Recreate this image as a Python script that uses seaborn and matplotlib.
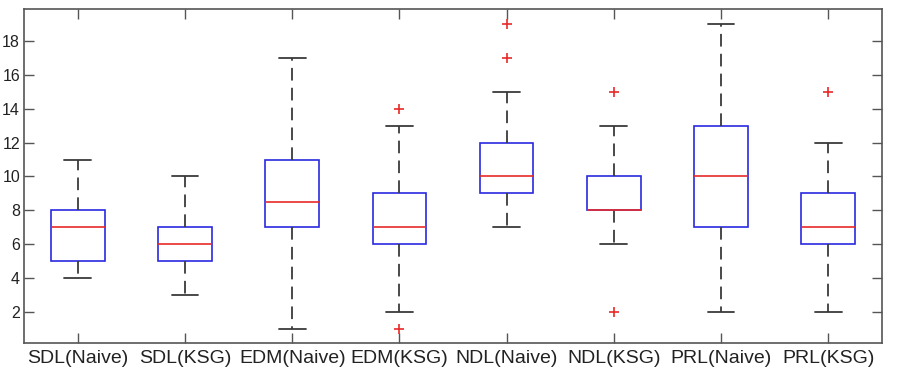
import pandas as pd
import numpy as np
import matplotlib.pyplot as plt
import seaborn as sns

# 各组箱线图的统计值
groups = ["SDL(Naive)", "SDL(KSG)", "EDM(Naive)", "EDM(KSG)",
          "NDL(Naive)", "NDL(KSG)", "PRL(Naive)", "PRL(KSG)"]
whis_lo = [4, 3, 1, 2, 7, 6, 2, 2]
q1 = [5, 5, 7, 6, 9, 8, 7, 6]
median = [7, 6, 8.5, 7, 10, 8, 10, 7]
q3 = [8, 7, 11, 9, 12, 10, 13, 9]
whis_hi = [11, 10, 17, 13, 15, 13, 19, 12]
outliers = [[], [], [], [14, 1], [17, 19], [15, 2], [], [15]]

# 把统计值转成 seaborn 需要的长表（分位数与读数一致）
rows = []
for g, lo, a, m, b, hi, fl in zip(groups, whis_lo, q1, median, q3, whis_hi, outliers):
    vals = [lo] + [a] * 4 + [m] * 4 + [b] * 4 + [hi] + fl
    rows += [(g, v) for v in vals]
df = pd.DataFrame(rows, columns=["group", "value"])

sns.set_style("ticks")
plt.rcParams["font.family"] = ["Liberation Sans", "DejaVu Sans"]

fig = plt.figure(figsize=(8.98, 3.71), dpi=100)
ax = fig.add_axes([0.027, 0.0755, 0.955, 0.9])

sns.boxplot(data=df, x="group", y="value", order=groups, ax=ax,
            width=0.5, whis=1.5, fill=True,
            boxprops=dict(facecolor="white", edgecolor="#2a2ae0", linewidth=1.2),
            medianprops=dict(color="#e82a2a", linewidth=1.2),
            whiskerprops=dict(color="#3a3a3a", linewidth=1.3, linestyle=(0, (7, 4))),
            capprops=dict(color="#3a3a3a", linewidth=1.3),
            flierprops=dict(marker="+", markeredgecolor="#e82a2a", markersize=7,
                            markeredgewidth=1.2))

ax.set_xlim(-0.5, 7.5)
ax.set_ylim(0.15, 19.9)
ax.set_yticks(np.arange(2, 19, 2))
ax.set_xlabel("")
ax.set_ylabel("")
ax.tick_params(direction="in", length=7, width=1, color="#555555",
               top=True, right=True, labelcolor="#222222")
ax.tick_params(axis="x", labelsize=14, pad=5)
ax.tick_params(axis="y", labelsize=11.5, pad=3)
for s in ax.spines.values():
    s.set_visible(True)
    s.set_color("#555555")
    s.set_linewidth(1.2)

plt.savefig("out.png", dpi=100)
